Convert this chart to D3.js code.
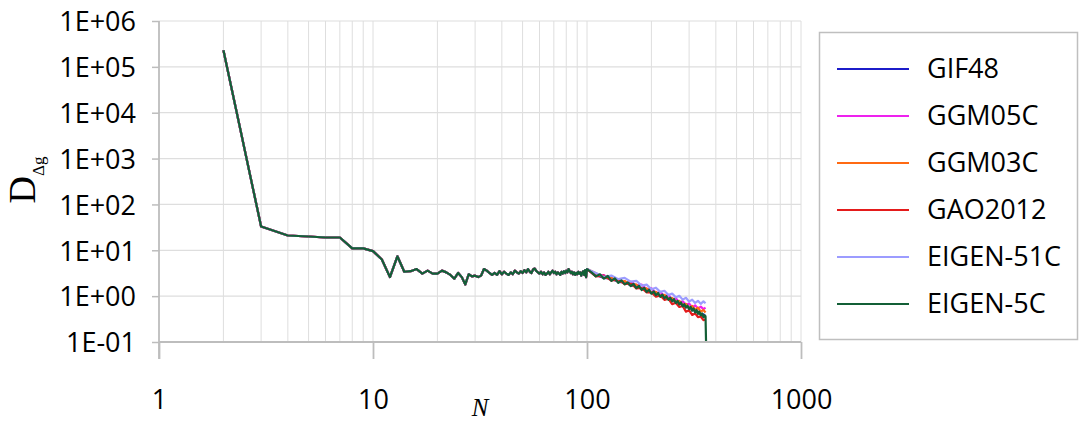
<!DOCTYPE html>
<html>
<head>
<meta charset="utf-8">
<script src="https://cdn.jsdelivr.net/npm/d3@7"></script>
<style>
  body { margin: 0; background: #fff; }
  svg { display: block; }
</style>
</head>
<body>
<div class="chart"></div>
<script>
// degree N and difference values
const commonN = d3.range(2, 101);
const commonValues = [
  230000, 33, 21, 20, 19, 19, 11, 11, 9.6, 6.3,
  2.6, 7.4, 3.4, 3.5, 3.9, 3.1, 3.6, 3.1, 3.1, 3.6,
  3.3, 2.9, 2.4, 3.2, 2.6, 1.8, 3.0, 2.7, 2.8, 2.6,
  2.8, 3.9, 3.6, 3.2, 2.9, 3.2, 2.9, 3.5, 3.0, 3.4,
  3.1, 2.9, 3.3, 3.0, 3.6, 3.3, 3.1, 3.5, 3.2, 3.7,
  3.3, 3.9, 3.4, 3.2, 3.8, 4.0, 3.5, 3.3, 3.1, 3.4,
  3.0, 3.3, 2.9, 3.1, 3.4, 3.0, 3.3, 3.6, 3.2, 3.4,
  3.0, 3.3, 3.1, 2.9, 3.4, 3.1, 3.5, 3.2, 3.6, 3.3,
  3.9, 3.5, 3.2, 3.4, 3.0, 3.3, 2.9, 3.2, 3.0, 3.4,
  3.1, 3.3, 2.8, 3.2, 3.5, 2.9, 3.7, 2.6, 3.9
];

const tailN5 = [105, 110, 115, 120, 125, 130, 135, 140, 145, 150, 155, 160, 165, 170, 175, 180,
  185, 190, 195, 200, 205, 210, 215, 220, 225, 230, 235, 240, 245, 250, 255, 260, 265, 270,
  275, 280, 285, 290, 295, 300, 305, 310, 315, 320, 325, 330, 335, 340, 345, 350, 355, 358, 360];
const tailN10 = [110, 120, 130, 140, 150, 160, 170, 180, 190, 200, 210, 220, 230, 240, 250,
  260, 270, 280, 290, 300, 310, 320, 330, 340, 350, 358];

const eigen5cTail = [3.3, 2.7, 3.0, 2.4, 2.75, 2.15, 2.45, 1.95, 2.2, 1.8, 2.0, 1.65, 1.85, 1.5,
  1.68, 1.36, 1.52, 1.24, 1.38, 1.13, 1.27, 1.05, 1.17, 0.97, 1.08, 0.9, 1.0, 0.83, 0.92, 0.77,
  0.86, 0.71, 0.79, 0.66, 0.73, 0.6, 0.67, 0.56, 0.62, 0.52, 0.58, 0.48, 0.54, 0.44, 0.5, 0.41,
  0.46, 0.38, 0.42, 0.35, 0.38, 0.36, 0.1];
const gif48Tail = [2.9, 2.5, 2.4, 2.05, 2.0, 1.72, 1.68, 1.42, 1.38, 1.18, 1.17, 1.0, 1.0, 0.86,
  0.86, 0.73, 0.74, 0.62, 0.63, 0.54, 0.54, 0.46, 0.46, 0.4, 0.4, 0.36];
const ggm05cTail = [2.76, 2.88, 2.24, 2.34, 1.87, 2.06, 1.72, 1.78, 1.41, 1.48, 1.17, 1.23, 1.0,
  1.06, 0.85, 0.9, 0.73, 0.77, 0.65, 0.69, 0.57, 0.63, 0.54, 0.59, 0.52, 0.56];
const ggm03cTail = [3.16, 2.51, 2.57, 2.05, 2.14, 1.72, 1.8, 1.41, 1.48, 1.18, 1.24, 1.01, 1.07,
  0.86, 0.91, 0.75, 0.79, 0.64, 0.68, 0.55, 0.61, 0.5, 0.56, 0.46, 0.5, 0.44];
const gao2012Tail = [2.69, 2.81, 2.19, 2.29, 1.82, 1.93, 1.47, 1.51, 1.21, 1.2, 0.97, 1.03, 0.83,
  0.88, 0.67, 0.72, 0.58, 0.61, 0.46, 0.49, 0.39, 0.42, 0.35, 0.36, 0.3, 0.31];
const eigen51cTail = [3.2, 2.63, 2.81, 2.35, 2.5, 2.07, 2.16, 1.7, 1.78, 1.41, 1.53, 1.24, 1.31,
  1.06, 1.14, 0.94, 1.02, 0.84, 0.92, 0.76, 0.84, 0.71, 0.79, 0.68, 0.77, 0.7];

const seriesNames = ['GIF48', 'GGM05C', 'GGM03C', 'GAO2012', 'EIGEN-51C', 'EIGEN-5C'];
const seriesColors = ['#1c1cc9', '#ee22ee', '#ff6a13', '#e41b1b', '#9c9cff', '#135f36'];
const seriesTailN = [tailN10, tailN10, tailN10, tailN10, tailN10, tailN5];
const seriesTails = [gif48Tail, ggm05cTail, ggm03cTail, gao2012Tail, eigen51cTail, eigen5cTail];

const xTicks = [1, 10, 100, 1000];
const xTickLabels = ['1', '10', '100', '1000'];
const yTicks = [0.1, 1, 10, 100, 1000, 10000, 100000, 1000000];
const yTickLabels = ['1E-01', '1E+00', '1E+01', '1E+02', '1E+03', '1E+04', '1E+05', '1E+06'];

const series = seriesNames.map((name, i) => {
  const ns = commonN.concat(seriesTailN[i]);
  const vs = commonValues.concat(seriesTails[i]);
  return {name: name, color: seriesColors[i], points: ns.map((n, j) => ({n: n, v: vs[j]}))};
});

const W = 1081, H = 423;
const plot = {left: 159, right: 801, top: 21, bottom: 342};

const svg = d3.select('.chart').append('svg')
  .attr('width', W).attr('height', H)
  .style('background', '#fff');

const xScale = d3.scaleLog().domain([1, 1000]).range([plot.left, plot.right]);
const yScale = d3.scaleLog().domain([0.1, 1000000]).range([plot.bottom, plot.top]);

// gridlines
const xMinor = [];
[1, 10, 100].forEach(d => { for (let k = 2; k <= 10; k++) xMinor.push(d * k); });
svg.append('g').selectAll('line')
  .data(xMinor).enter().append('line')
  .attr('x1', d => xScale(d)).attr('x2', d => xScale(d))
  .attr('y1', plot.top).attr('y2', plot.bottom)
  .attr('stroke', '#dedede').attr('stroke-width', 1);
svg.append('g').selectAll('line')
  .data(yTicks.slice(1)).enter().append('line')
  .attr('x1', plot.left).attr('x2', plot.right)
  .attr('y1', d => yScale(d)).attr('y2', d => yScale(d))
  .attr('stroke', '#dedede').attr('stroke-width', 1.2);

// lines
const line = d3.line().x(d => xScale(d.n)).y(d => yScale(d.v));
svg.append('g').selectAll('path')
  .data(series).enter().append('path')
  .attr('d', d => line(d.points))
  .attr('fill', 'none')
  .attr('stroke', d => d.color)
  .attr('stroke-width', 2.2)
  .attr('stroke-linejoin', 'round');

// axes
const axisColor = '#bdbdbd';
const yAxis = d3.axisLeft(yScale).tickValues(yTicks)
  .tickFormat((d, i) => yTickLabels[i]).tickSize(7).tickPadding(16);
const gy = svg.append('g').attr('transform', `translate(${plot.left},0)`).call(yAxis);
gy.select('.domain').remove();
gy.selectAll('.tick line').attr('stroke', axisColor).attr('stroke-width', 1.5);
gy.selectAll('.tick text')
  .attr('font-family', '"Open Sans", sans-serif').attr('font-size', 27)
  .attr('fill', '#000').attr('dy', '0.36em');
gy.append('line').attr('x1', 0).attr('x2', 0).attr('y1', plot.top).attr('y2', plot.bottom + 17)
  .attr('stroke', axisColor).attr('stroke-width', 1.8);

const xAxis = d3.axisBottom(xScale).tickValues(xTicks)
  .tickFormat((d, i) => xTickLabels[i]).tickSize(17);
const gx = svg.append('g').attr('transform', `translate(0,${plot.bottom})`).call(xAxis);
gx.select('.domain').remove();
gx.selectAll('.tick line').attr('stroke', axisColor).attr('stroke-width', 1.8);
gx.selectAll('.tick text')
  .attr('font-family', '"Open Sans", sans-serif').attr('font-size', 27)
  .attr('fill', '#000').attr('y', 67).attr('dy', 0);
gx.append('line').attr('x1', plot.left).attr('x2', plot.right).attr('y1', 0).attr('y2', 0)
  .attr('stroke', axisColor).attr('stroke-width', 1.8);

// axis titles
svg.append('text')
  .attr('x', 480).attr('y', 416)
  .attr('text-anchor', 'middle')
  .attr('font-family', '"Liberation Serif", serif')
  .attr('font-style', 'italic')
  .attr('font-size', 25)
  .text('N');

const yTitle = svg.append('text')
  .attr('transform', 'translate(35,180) rotate(-90)')
  .attr('text-anchor', 'middle')
  .attr('font-family', '"Liberation Serif", serif');
yTitle.append('tspan').attr('font-size', 38).text('D');
yTitle.append('tspan').attr('font-size', 17).attr('dy', 9).text('Δg');

// legend
const legend = svg.append('g');
legend.append('rect')
  .attr('x', 819.5).attr('y', 32.5).attr('width', 258).attr('height', 307)
  .attr('fill', '#fff').attr('stroke', '#bfbfbf').attr('stroke-width', 1.5);
const items = legend.selectAll('.item')
  .data(series).enter().append('g')
  .attr('class', 'item')
  .attr('transform', (d, i) => `translate(0,${69 + i * 47})`);
items.append('line')
  .attr('x1', 837).attr('x2', 909).attr('y1', 0).attr('y2', 0)
  .attr('stroke', d => d.color).attr('stroke-width', 2);
items.append('text')
  .attr('x', 927).attr('y', 9)
  .attr('font-family', '"Open Sans", sans-serif').attr('font-size', 27)
  .attr('fill', '#000')
  .text(d => d.name);
</script>
</body>
</html>
